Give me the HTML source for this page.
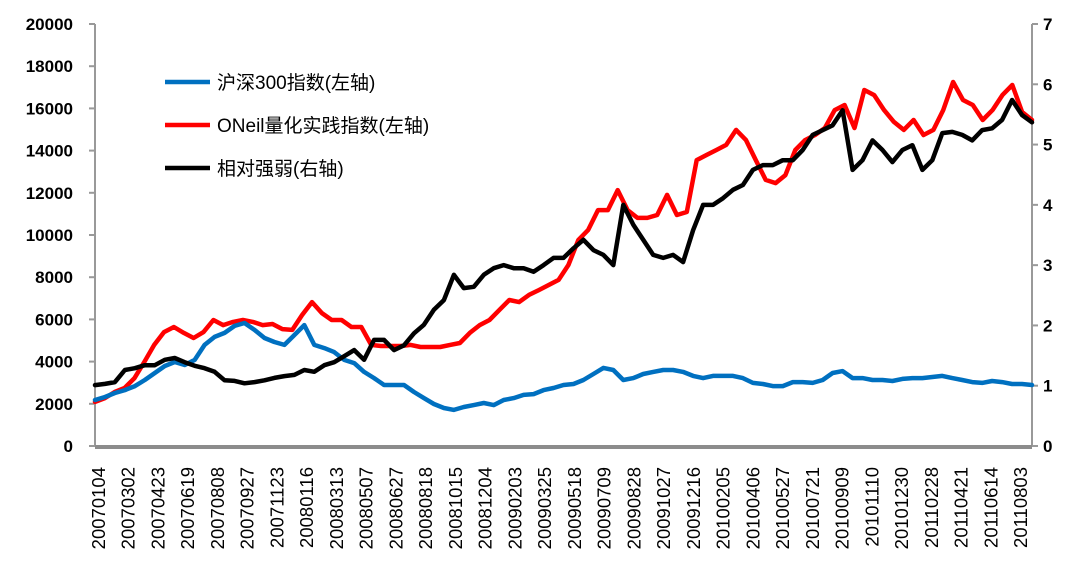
<!DOCTYPE html>
<html><head><meta charset="utf-8"><style>
body{margin:0;background:#fff}
svg{display:block}
text{font-family:"Liberation Sans","Noto Sans CJK SC",sans-serif}
</style></head><body>
<svg id="chart" width="1083" height="576" viewBox="0 0 1083 576" xmlns="http://www.w3.org/2000/svg">
<g id="axes"></g>
<g id="series"></g>
<g id="legend"></g>
</svg>
<script>
const categories=["20070104","20070302","20070423","20070619","20070808","20070927","20071123","20080116","20080313","20080507","20080627","20080818","20081015","20081204","20090203","20090325","20090518","20090709","20090828","20091027","20091216","20100205","20100406","20100527","20100721","20100909","20101110","20101230","20110228","20110421","20110614","20110803"];
const leftTicks=[0,2000,4000,6000,8000,10000,12000,14000,16000,18000,20000];
const rightTicks=[0,1,2,3,4,5,6,7];
const csi300=[2180,2320,2510,2650,2840,3130,3460,3790,3980,3840,4080,4790,5170,5360,5690,5830,5500,5120,4930,4790,5260,5730,4790,4640,4450,4080,3930,3510,3220,2890,2890,2890,2560,2270,1990,1800,1710,1850,1940,2040,1940,2180,2270,2420,2460,2650,2750,2890,2940,3130,3410,3700,3600,3130,3220,3410,3510,3600,3600,3510,3320,3220,3320,3320,3320,3220,2990,2940,2840,2840,3030,3030,2990,3130,3460,3550,3220,3220,3130,3130,3080,3180,3220,3220,3270,3320,3220,3130,3030,2990,3080,3030,2940,2940,2890];
const oneil=[2090,2270,2560,2750,3220,3980,4790,5400,5640,5360,5120,5400,5970,5730,5880,5970,5880,5730,5780,5540,5500,6210,6820,6300,5970,5970,5640,5640,4790,4740,4740,4740,4790,4690,4690,4690,4790,4880,5360,5730,5970,6450,6920,6820,7160,7390,7630,7870,8580,9760,10240,11180,11180,12130,11180,10810,10810,10950,11900,10950,11090,13550,13790,14030,14270,14980,14500,13550,12610,12460,12840,14030,14500,14740,15070,15920,16160,15070,16870,16630,15920,15360,14980,15450,14740,14980,15920,17250,16400,16160,15450,15920,16630,17110,15830,15450];
const relStrength=[1.01,1.03,1.06,1.26,1.29,1.34,1.34,1.43,1.46,1.39,1.33,1.29,1.23,1.09,1.08,1.04,1.06,1.09,1.13,1.16,1.18,1.26,1.23,1.34,1.39,1.49,1.59,1.43,1.76,1.76,1.59,1.67,1.87,2.01,2.26,2.42,2.84,2.62,2.64,2.84,2.95,3.00,2.95,2.95,2.89,3.00,3.12,3.12,3.28,3.42,3.25,3.17,3.00,4.00,3.67,3.42,3.17,3.12,3.17,3.05,3.58,4.00,4.00,4.11,4.25,4.33,4.58,4.66,4.66,4.74,4.74,4.91,5.16,5.24,5.32,5.57,4.58,4.74,5.07,4.91,4.71,4.91,4.99,4.58,4.74,5.19,5.21,5.16,5.07,5.24,5.27,5.41,5.74,5.49,5.37];
const seriesNames=["沪深300指数(左轴)","ONeil量化实践指数(左轴)","相对强弱(右轴)"];

const X0=95,X1=1032,Y0=446,Y1=24;
const NS="http://www.w3.org/2000/svg";
const yL=v=>Y0-(v/20000)*(Y0-Y1);
const yR=v=>Y0-(v/7)*(Y0-Y1);
const xIdx=(i,n)=>X0+i*(X1-X0)/(n-1);
function mk(tag,attrs,parent){const e=document.createElementNS(NS,tag);for(const k in attrs)e.setAttribute(k,attrs[k]);parent.appendChild(e);return e;}
const axes=document.getElementById('axes'),series=document.getElementById('series'),legend=document.getElementById('legend');

let e=mk('line',{x1:X0,y1:Y1,x2:X0,y2:Y0,stroke:'#999','stroke-width':2},axes);


e=mk('line',{x1:X1,y1:Y1,x2:X1,y2:Y0,stroke:'#999','stroke-width':2},axes);


e=mk('line',{x1:X0,y1:Y0+1,x2:X1,y2:Y0+1,stroke:'#8c8c8c','stroke-width':4},axes);


leftTicks.forEach(v=>{
  const y=yL(v);
  mk('line',{x1:X0-6,y1:y,x2:X0,y2:y,stroke:'#999','stroke-width':2},axes);
  const t=mk('text',{x:73,y:y+6,'text-anchor':'end','font-size':17,'font-weight':'bold',fill:'#000'},axes);
  t.textContent=v;
  
  
});
rightTicks.forEach(v=>{
  const y=yR(v);
  mk('line',{x1:X1,y1:y,x2:X1+6,y2:y,stroke:'#999','stroke-width':2},axes);
  const t=mk('text',{x:1043,y:y+6,'font-size':17,'font-weight':'bold',fill:'#000'},axes);
  t.textContent=v;
  
  
});
const nc=categories.length, step=(1020-98)/(nc-1);
categories.forEach((c,i)=>{
  const x=98+i*step;
  const t=mk('text',{x:0,y:0,transform:`translate(${x+7},467) rotate(-90)`,'text-anchor':'end','font-size':18.5,'font-family':'"DejaVu Sans",sans-serif',fill:'#000'},axes);
  t.textContent=c;
  
  
});
function line(data,yf,color,name){
  const pts=data.map((v,i)=>xIdx(i,data.length).toFixed(1)+','+yf(v).toFixed(1)).join(' ');
  const p=mk('polyline',{points:pts,fill:'none',stroke:color,'stroke-width':4.5,'stroke-linejoin':'round','stroke-linecap':'round'},series);
  
  
}
line(oneil,yL,'#ff0000','oneil-line');
line(csi300,yL,'#0070c0','csi300-line');
line(relStrength,yR,'#000000','relative-strength-line');
const lc=['#0070c0','#ff0000','#000000'];
seriesNames.forEach((n,i)=>{
  const y=82+i*43;
  const g=mk('g',{},legend);
  
  
  mk('line',{x1:165,y1:y,x2:210,y2:y,stroke:lc[i],'stroke-width':4.5},g);
  const t=mk('text',{x:217,y:y+7,'font-size':19,fill:'#000'},g);
  t.textContent=n;
});
</script>
</body></html>
